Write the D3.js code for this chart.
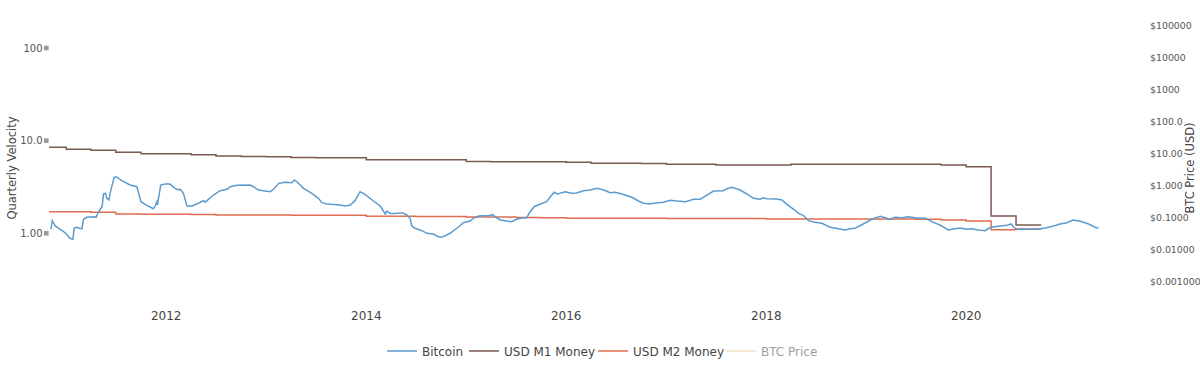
<!DOCTYPE html>
<html>
<head>
<meta charset="utf-8">
<script src="https://cdn.jsdelivr.net/npm/d3@7"></script>
<style>
  body { margin: 0; background: #fff; }
  svg { font-family: "DejaVu Sans", Verdana, sans-serif; }
</style>
</head>
<body>
<svg id="chart" width="1200" height="376"></svg>
<script>
// Bitcoin 분기 유통속도 (일별 이동값, 그림에서 읽음)
const btcDates = ["2010-11-06","2010-11-11","2010-11-22","2010-12-10","2010-12-28","2011-01-15","2011-01-25","2011-01-30","2011-02-08","2011-02-18","2011-02-27","2011-03-05","2011-03-17","2011-04-11","2011-04-20","2011-04-25","2011-05-05","2011-05-12","2011-05-17","2011-05-24","2011-05-29","2011-06-06","2011-06-10","2011-06-25","2011-07-02","2011-07-23","2011-08-22","2011-09-16","2011-10-01","2011-10-22","2011-11-15","2011-11-21","2011-11-28","2011-11-30","2011-12-12","2011-12-28","2012-01-15","2012-02-03","2012-02-15","2012-02-21","2012-03-04","2012-03-17","2012-04-04","2012-04-22","2012-05-17","2012-05-23","2012-05-29","2012-06-22","2012-07-16","2012-08-10","2012-08-22","2012-09-16","2012-11-03","2012-11-15","2012-12-03","2012-12-28","2013-01-15","2013-01-27","2013-02-15","2013-03-11","2013-04-04","2013-04-13","2013-04-22","2013-05-17","2013-06-16","2013-07-10","2013-07-23","2013-08-10","2013-09-27","2013-10-16","2013-11-03","2013-11-21","2013-12-09","2013-12-21","2014-01-03","2014-01-27","2014-02-21","2014-03-11","2014-03-17","2014-03-29","2014-04-16","2014-05-11","2014-05-29","2014-06-10","2014-06-16","2014-06-28","2014-07-23","2014-08-10","2014-09-03","2014-09-21","2014-10-04","2014-11-03","2014-11-15","2014-12-03","2014-12-21","2015-01-15","2015-01-27","2015-02-15","2015-03-05","2015-03-23","2015-04-08","2015-04-16","2015-05-05","2015-05-29","2015-06-16","2015-07-04","2015-07-23","2015-08-10","2015-08-22","2015-09-06","2015-09-27","2015-10-22","2015-11-03","2015-11-18","2015-11-30","2015-12-28","2016-01-21","2016-02-08","2016-03-04","2016-03-28","2016-04-22","2016-05-17","2016-06-10","2016-06-28","2016-07-23","2016-08-28","2016-09-21","2016-10-09","2016-11-03","2016-11-15","2016-12-21","2017-01-15","2017-02-08","2017-03-11","2017-04-11","2017-05-05","2017-05-17","2017-06-22","2017-07-28","2017-08-10","2017-08-28","2017-09-27","2017-10-22","2017-11-15","2017-12-09","2017-12-21","2018-01-03","2018-02-08","2018-02-27","2018-03-17","2018-04-11","2018-04-29","2018-05-17","2018-06-04","2018-06-22","2018-07-23","2018-08-22","2018-09-21","2018-10-16","2018-11-03","2018-11-21","2018-12-21","2019-01-21","2019-02-21","2019-03-11","2019-03-29","2019-04-16","2019-05-11","2019-06-04","2019-07-04","2019-08-04","2019-08-28","2019-09-27","2019-10-28","2019-11-21","2019-12-09","2020-01-03","2020-01-21","2020-02-15","2020-03-11","2020-03-23","2020-04-11","2020-05-05","2020-05-29","2020-06-13","2020-06-22","2020-07-04","2020-08-10","2020-09-16","2020-10-16","2020-11-15","2020-12-09","2021-01-03","2021-01-25","2021-02-21","2021-03-23","2021-04-16","2021-04-28"];
const btcVelocity = [1.105,1.368,1.199,1.105,1.015,0.883,0.861,1.132,1.161,1.132,1.121,1.416,1.488,1.511,1.488,1.616,1.816,1.937,2.656,2.702,2.387,2.288,2.702,4.02,4.08,3.70,3.32,3.18,2.19,2.005,1.843,1.937,2.19,2.02,3.32,3.40,3.40,3.06,2.93,2.985,2.70,1.97,1.97,2.07,2.25,2.16,2.25,2.59,2.88,2.985,3.18,3.30,3.32,3.18,2.93,2.86,2.81,2.985,3.46,3.55,3.52,3.76,3.60,3.06,2.70,2.387,2.14,2.07,2.02,1.97,2.02,2.25,2.81,2.70,2.53,2.23,1.97,1.616,1.74,1.64,1.64,1.67,1.576,1.452,1.199,1.132,1.067,1.00,0.983,0.919,0.905,1.00,1.067,1.161,1.30,1.357,1.452,1.537,1.549,1.549,1.588,1.511,1.392,1.357,1.334,1.416,1.463,1.474,1.711,1.937,2.056,2.19,2.45,2.77,2.656,2.81,2.70,2.72,2.88,2.93,3.06,2.93,2.74,2.77,2.656,2.45,2.23,2.11,2.07,2.11,2.16,2.27,2.23,2.19,2.33,2.33,2.45,2.86,2.88,3.03,3.14,2.93,2.656,2.387,2.33,2.42,2.36,2.35,2.288,2.056,1.816,1.64,1.549,1.368,1.324,1.282,1.161,1.121,1.085,1.121,1.132,1.26,1.416,1.526,1.474,1.416,1.488,1.474,1.511,1.463,1.463,1.334,1.229,1.085,1.121,1.141,1.105,1.121,1.085,1.067,1.132,1.178,1.199,1.22,1.26,1.161,1.105,1.105,1.105,1.141,1.199,1.26,1.30,1.392,1.347,1.26,1.161,1.132];

// USD M1 / M2 분기 유통속도
const quarterStarts = ["2010-10-01","2011-01-01","2011-04-01","2011-07-01","2011-10-01","2012-01-01","2012-04-01","2012-07-01","2012-10-01","2013-01-01","2013-04-01","2013-07-01","2013-10-01","2014-01-01","2014-04-01","2014-07-01","2014-10-01","2015-01-01","2015-04-01","2015-07-01","2015-10-01","2016-01-01","2016-04-01","2016-07-01","2016-10-01","2017-01-01","2017-04-01","2017-07-01","2017-10-01","2018-01-01","2018-04-01","2018-07-01","2018-10-01","2019-01-01","2019-04-01","2019-07-01","2019-10-01","2020-01-01","2020-04-01","2020-07-01"];
const quarterEnd = "2020-10-01";
const m1Velocity = [8.48,8.07,7.87,7.49,7.23,7.20,7.05,6.83,6.75,6.72,6.56,6.55,6.54,6.22,6.21,6.21,6.20,5.94,5.93,5.93,5.92,5.84,5.70,5.69,5.68,5.56,5.55,5.46,5.46,5.45,5.57,5.57,5.57,5.57,5.56,5.55,5.46,5.24,1.54,1.23];
const m2Velocity = [1.71,1.71,1.69,1.62,1.61,1.61,1.60,1.58,1.58,1.58,1.57,1.57,1.57,1.53,1.53,1.52,1.52,1.50,1.50,1.48,1.47,1.45,1.45,1.45,1.45,1.44,1.44,1.44,1.44,1.43,1.43,1.43,1.43,1.43,1.43,1.42,1.39,1.36,1.09,1.11];

// 축 눈금
const yearTicks = [2012, 2014, 2016, 2018, 2020];
const velocityTicks = [1, 10, 100];
const velocityLabels = ["1.00", "10.0", "100"];
const priceTicks = [0.001, 0.01, 0.1, 1, 10, 100, 1000, 10000, 100000];
const priceLabels = ["$0.001000", "$0.01000", "$0.1000", "$1.000", "$10.00", "$100.0", "$1000", "$10000", "$100000"];

const seriesNames = ["Bitcoin", "USD M1 Money", "USD M2 Money", "BTC Price"];
const seriesColors = ["#5b9bcf", "#7b5a52", "#e06c52", "#f3e2c6"];

const parse = d3.utcParse("%Y-%m-%d");
const svg = d3.select("#chart");
const plot = { left: 49, right: 1148, top: 10, bottom: 300 };
const titleY = 168;

const x = d3.scaleUtc()
    .domain([parse("2010-10-30"), parse("2021-10-26")])
    .range([plot.left, plot.right]);
const y = d3.scaleLog()
    .domain([Math.pow(10, -0.72), Math.pow(10, 2.41)])
    .range([plot.bottom, plot.top]);
const yPrice = d3.scaleLog()
    .domain([Math.pow(10, -3.57), Math.pow(10, 5.47)])
    .range([plot.bottom, plot.top]);

svg.append("defs").append("clipPath").attr("id", "clip")
    .append("rect")
    .attr("x", plot.left).attr("y", plot.top)
    .attr("width", plot.right - plot.left).attr("height", plot.bottom - plot.top);

// x 축 라벨
svg.append("g").selectAll("text")
    .data(yearTicks)
    .join("text")
    .attr("x", d => x(parse(`${d}-01-01`)))
    .attr("y", 320)
    .attr("text-anchor", "middle")
    .attr("font-size", 12)
    .attr("fill", "#444")
    .text(d => d);

// 왼쪽 축 (velocity)
const left = svg.append("g");
left.selectAll("rect")
    .data(velocityTicks)
    .join("rect")
    .attr("x", plot.left - 5)
    .attr("y", d => y(d) - 2.3)
    .attr("width", 4.6)
    .attr("height", 4.6)
    .attr("fill", "#999");
left.selectAll("text")
    .data(velocityTicks)
    .join("text")
    .attr("x", plot.left - 6.5)
    .attr("y", d => y(d) + 3.6)
    .attr("text-anchor", "end")
    .attr("font-size", 10)
    .attr("fill", "#555")
    .text((d, i) => velocityLabels[i]);
svg.append("text")
    .attr("transform", `translate(16, ${titleY}) rotate(-90)`)
    .attr("text-anchor", "middle")
    .attr("font-size", 11.5)
    .attr("fill", "#444")
    .text("Quarterly Velocity");

// 오른쪽 축 (BTC price)
svg.append("g").selectAll("text")
    .data(priceTicks)
    .join("text")
    .attr("x", plot.right + 2)
    .attr("y", (d) => yPrice(d) + 3.6)
    .attr("font-size", 9.4)
    .attr("fill", "#555")
    .text((d, i) => priceLabels[i]);
svg.append("text")
    .attr("transform", `translate(1194, ${titleY}) rotate(-90)`)
    .attr("text-anchor", "middle")
    .attr("font-size", 11.5)
    .attr("fill", "#444")
    .text("BTC Price (USD)");

// 선 그리기
const lines = svg.append("g").attr("clip-path", "url(#clip)");
const stepLine = d3.line()
    .x(d => x(d[0]))
    .y(d => y(d[1]))
    .curve(d3.curveStepAfter);
const quarterPoints = vals => {
    let pts = quarterStarts.map((q, i) => [parse(q), vals[i]]);
    pts.push([parse(quarterEnd), vals[vals.length - 1]]);
    return pts;
};
lines.append("path")
    .attr("d", stepLine(quarterPoints(m2Velocity)))
    .attr("fill", "none")
    .attr("stroke", seriesColors[2])
    .attr("stroke-width", 1.5);
lines.append("path")
    .attr("d", stepLine(quarterPoints(m1Velocity)))
    .attr("fill", "none")
    .attr("stroke", seriesColors[1])
    .attr("stroke-width", 1.5);

const btcLine = d3.line()
    .x(d => x(d[0]))
    .y(d => y(d[1]));
lines.append("path")
    .attr("d", btcLine(btcDates.map((d, i) => [parse(d), btcVelocity[i]])))
    .attr("fill", "none")
    .attr("stroke", seriesColors[0])
    .attr("stroke-width", 1.5);

// 범례
const legendX = [387, 469, 598, 726];
const legend = svg.append("g").selectAll("g")
    .data(seriesNames)
    .join("g")
    .attr("transform", (d, i) => `translate(${legendX[i]}, 351)`);
legend.append("line")
    .attr("x1", 0).attr("x2", 30)
    .attr("stroke", (d, i) => seriesColors[i])
    .attr("stroke-width", 1.5);
legend.append("text")
    .attr("x", 35)
    .attr("y", 4.5)
    .attr("font-size", 12)
    .attr("fill", (d, i) => i === 3 ? "#a0a0a0" : "#444")
    .text(d => d);
</script>
</body>
</html>
